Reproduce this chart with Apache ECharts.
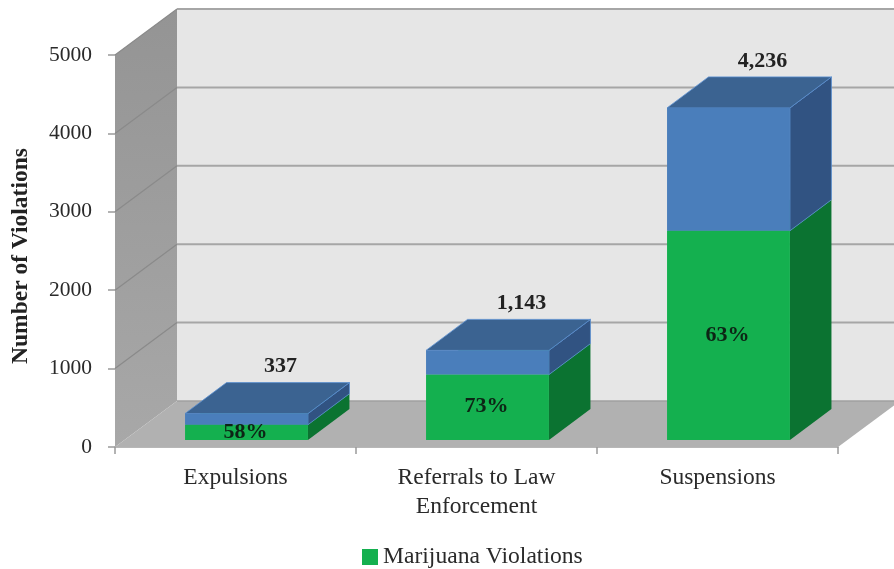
<!DOCTYPE html>
<html><head><meta charset="utf-8">
<style>html,body{margin:0;padding:0;background:#fff}#c{width:894px;height:569px;filter:blur(0.5px)}</style>
<script src="https://cdn.jsdelivr.net/npm/echarts@6/dist/echarts.min.js"></script>
</head><body><div id="c"></div>
<script>
const categories = ['Expulsions', 'Referrals to Law\nEnforcement', 'Suspensions'];
const marijuana = [195, 834, 2669];
const other = [142, 309, 1567];
const totalLabels = ['337', '1,143', '4,236'];
const percentLabels = ['58%', '73%', '63%'];
const yTicks = [0, 1000, 2000, 3000, 4000, 5000];

const FONT = '"Liberation Serif", serif';
const DX = 62, DY = 46;            // wall depth
const BDX = 41.5, BDY = 31;        // bar depth
const SHIFT = 11, LIFT = 7;        // bar placement on floor

const chart = echarts.init(document.getElementById('c'), null, {renderer: 'canvas'});

function poly(points, fill, stroke, lw) {
  return {type: 'polygon', shape: {points}, style: {fill, stroke: stroke || null, lineWidth: lw || 0}};
}

function renderWalls(params, api) {
  if (params.dataIndex !== 0) return null;
  const cs = params.coordSys;
  const l = cs.x, r = cs.x + cs.width;
  const yOf = v => api.coord([0, v])[1];
  const y0 = yOf(0), yT = yOf(yTicks[yTicks.length - 1]);
  const kids = [
    poly([[l + DX, yT - DY], [r + DX, yT - DY], [r + DX, y0 - DY], [l + DX, y0 - DY]], '#e6e6e6'),
    {type: 'polygon', shape: {points: [[l, yT], [l + DX, yT - DY], [l + DX, y0 - DY], [l, y0]]},
      style: {fill: new echarts.graphic.LinearGradient(0, 0, 0, 1, [
        {offset: 0, color: '#949494'}, {offset: 1, color: '#a8a8a8'}])}},
    poly([[l, y0], [r, y0], [r + DX, y0 - DY], [l + DX, y0 - DY]], '#b1b1b1')
  ];
  yTicks.forEach(t => {
    const y = yOf(t);
    if (t === 0) {
      kids.push({type: 'polyline', shape: {points: [[l + DX, y - DY], [r + DX, y - DY]]}, style: {stroke: '#a0a0a0', lineWidth: 1.5, fill: null}});
      return;
    }
    kids.push({type: 'polyline', shape: {points: [[l, y], [l + DX, y - DY]]}, style: {stroke: '#8a8a8a', lineWidth: 1.2, fill: null}});
    kids.push({type: 'polyline', shape: {points: [[l + DX, y - DY], [r + DX, y - DY]]}, style: {stroke: '#a6a6a6', lineWidth: 2, fill: null}});
  });
  return {type: 'group', children: kids};
}

function barBox(api) {
  const cat = api.value(0), a = api.value(1), b = api.value(2);
  const pa = api.coord([cat, a]), pb = api.coord([cat, b]);
  const bw = api.size([1, 0])[0] * 0.51;
  return {x0: pa[0] + SHIFT - bw / 2, x1: pa[0] + SHIFT + bw / 2, ya: pa[1] - LIFT, yb: pb[1] - LIFT};
}

function makeBar(front, top, side, edge) {
  return function (params, api) {
    const {x0, x1, ya, yb} = barBox(api);
    return {type: 'group', children: [
      poly([[x1, ya], [x1 + BDX, ya - BDY], [x1 + BDX, yb - BDY], [x1, yb]], side, edge, edge ? 0.8 : 0),
      poly([[x0, yb], [x1, yb], [x1 + BDX, yb - BDY], [x0 + BDX, yb - BDY]], top, edge, edge ? 0.8 : 0),
      poly([[x0, ya], [x1, ya], [x1, yb], [x0, yb]], front)
    ]};
  };
}

function renderPercent(params, api) {
  const {x0, x1, ya, yb} = barBox(api);
  return {type: 'text', style: {text: percentLabels[params.dataIndex], x: (x0 + x1) / 2 - 1, y: (ya + yb) / 2 - 0.5,
    align: 'center', verticalAlign: 'middle', font: 'bold 22px ' + FONT, fill: '#0d2415'}};
}

function renderTotal(params, api) {
  const {x0, x1, yb} = barBox(api);
  return {type: 'text', style: {text: totalLabels[params.dataIndex], x: (x0 + x1) / 2 + 34, y: yb - 47,
    align: 'center', verticalAlign: 'middle', font: 'bold 22px ' + FONT, fill: '#222'}};
}

const greenData = categories.map((c, i) => [i, 0, marijuana[i]]);
const blueData = categories.map((c, i) => [i, marijuana[i], marijuana[i] + other[i]]);

chart.setOption({
  animation: false,
  backgroundColor: '#fff',
  grid: {left: 115, right: 56, top: 55, height: 392, containLabel: false, outerBoundsMode: 'none'},
  legend: {
    data: ['Marijuana Violations'], left: 357, top: 540, icon: 'rect', itemWidth: 16, itemHeight: 16, itemGap: 5,
    textStyle: {fontFamily: FONT, fontSize: 23.6, color: '#2a2a2a'}, selectedMode: false
  },
  xAxis: {
    type: 'category', data: categories,
    axisLine: {lineStyle: {color: '#a0a0a0', width: 1.5}},
    axisTick: {show: true, length: 7, lineStyle: {color: '#9a9a9a', width: 1.5}},
    axisLabel: {fontFamily: FONT, fontSize: 23.5, color: '#2a2a2a', lineHeight: 29.5, margin: 16, interval: 0},
    splitLine: {show: false}
  },
  yAxis: {
    type: 'value', min: 0, max: 5000, interval: 1000,
    name: 'Number of Violations', nameLocation: 'middle', nameGap: 82, nameRotate: 90,
    nameTextStyle: {fontFamily: FONT, fontSize: 23.5, fontWeight: 'bold', color: '#222', padding: [0, 10, 0, 0]},
    axisLine: {show: false},
    axisTick: {show: true, length: 7, lineStyle: {color: '#9a9a9a', width: 1.5}},
    axisLabel: {fontFamily: FONT, fontSize: 21.5, color: '#2a2a2a', margin: 23, formatter: v => String(v)},
    splitLine: {show: false}
  },
  series: [
    {type: 'custom', name: 'walls', coordinateSystem: 'cartesian2d', renderItem: renderWalls,
      data: greenData, encode: {x: 0, y: 1}, silent: true, z: 1},
    {type: 'custom', name: 'Marijuana Violations', coordinateSystem: 'cartesian2d',
      renderItem: makeBar('#14b04f', '#14b04f', '#0b7331', null),
      data: greenData, encode: {x: 0, y: [1, 2]}, itemStyle: {color: '#14b04f'}, z: 2},
    {type: 'custom', name: 'Other Violations', coordinateSystem: 'cartesian2d',
      renderItem: makeBar('#4a7ebb', '#3b6391', '#315382', '#5a8fd0'),
      data: blueData, encode: {x: 0, y: [1, 2]}, itemStyle: {color: '#4a7ebb'}, z: 3},
    {type: 'custom', name: 'percent labels', coordinateSystem: 'cartesian2d', renderItem: renderPercent,
      data: greenData, encode: {x: 0, y: [1, 2]}, silent: true, z: 4},
    {type: 'custom', name: 'total labels', coordinateSystem: 'cartesian2d', renderItem: renderTotal,
      data: blueData, encode: {x: 0, y: [1, 2]}, silent: true, z: 4}
  ]
});
</script></body></html>
